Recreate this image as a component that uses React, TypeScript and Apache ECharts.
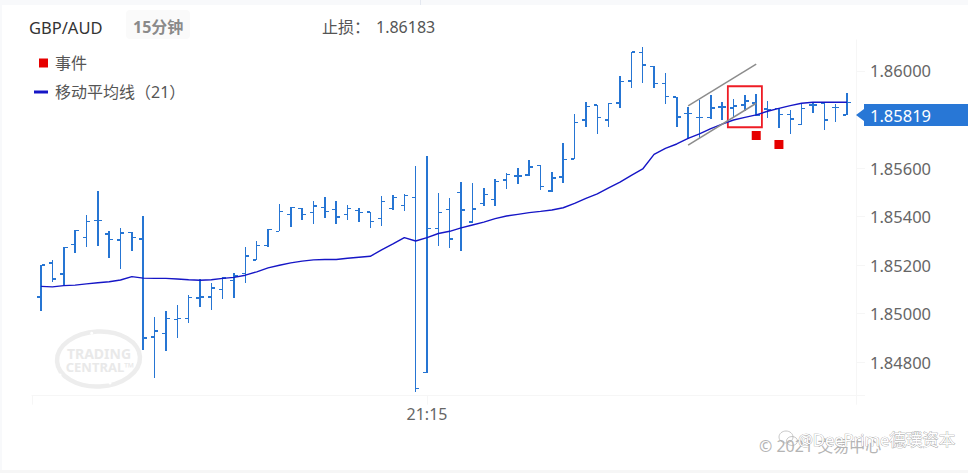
import React, { useEffect, useRef } from "react";
import * as echarts from "echarts";

const FONT = '"Noto Sans", "Noto Sans CJK SC", sans-serif';
const BAR_COLOR = "#2675d3";
const MA_COLOR = "#1616c6";
const AXIS_COLOR = "#f6f6f6";

const opens = [
  1.85069, 1.85209, 1.85162, 1.85285, 1.85314, 1.85384, 1.85327, 1.85304, 1.85335, 1.85308, 1.84904, 1.84918,
  1.84976, 1.8498, 1.85063, 1.85069, 1.851, 1.85137, 1.85164, 1.85221, 1.8528, 1.85339, 1.85409, 1.85432,
  1.85416, 1.85438, 1.85428, 1.85409, 1.85424, 1.85418, 1.85391, 1.85432, 1.85446, 1.85478, 1.84756, 1.85351,
  1.85428, 1.855, 1.85377, 1.85454, 1.85471, 1.8555, 1.85566, 1.85571, 1.85611, 1.85506, 1.85563, 1.85638,
  1.85798, 1.85859, 1.85797, 1.85869, 1.85959, 1.86077, 1.86018, 1.85949, 1.85892, 1.85824, 1.85809, 1.85809,
  1.85852, 1.85847, 1.85859, 1.85867, 1.85843, 1.85846, 1.85821, 1.8578, 1.85859, 1.85868, 1.8585, 1.85819,
];
const highs = [
  1.85201, 1.85221, 1.85273, 1.85343, 1.85406, 1.85505, 1.8534, 1.85353, 1.85336, 1.85402, 1.84986, 1.8501,
  1.85035, 1.85075, 1.85141, 1.85124, 1.85149, 1.85166, 1.85273, 1.85299, 1.85347, 1.85452, 1.85439, 1.85435,
  1.85464, 1.8548, 1.85464, 1.85447, 1.85435, 1.85419, 1.85485, 1.85489, 1.85493, 1.85608, 1.85649, 1.85497,
  1.85476, 1.85541, 1.85538, 1.85518, 1.85555, 1.85579, 1.856, 1.85633, 1.85611, 1.85583, 1.85703, 1.85823,
  1.85872, 1.8586, 1.85867, 1.85979, 1.86078, 1.86099, 1.86019, 1.85992, 1.85892, 1.85853, 1.85879, 1.85901,
  1.85872, 1.85885, 1.85901, 1.85905, 1.85876, 1.85847, 1.85839, 1.85864, 1.85872, 1.85868, 1.85864, 1.85909,
];
const lows = [
  1.8501, 1.85131, 1.85115, 1.85251, 1.85275, 1.85278, 1.8523, 1.85185, 1.85259, 1.84849, 1.84735, 1.84847,
  1.849, 1.84962, 1.85028, 1.85016, 1.85061, 1.85065, 1.85127, 1.85221, 1.85275, 1.85339, 1.85358, 1.85387,
  1.8537, 1.85395, 1.8537, 1.85387, 1.85379, 1.85354, 1.85362, 1.85428, 1.85424, 1.84675, 1.84753, 1.8528,
  1.85271, 1.85259, 1.85372, 1.85444, 1.85444, 1.85513, 1.85534, 1.85567, 1.85509, 1.85501, 1.85538, 1.85636,
  1.85769, 1.8574, 1.85769, 1.85847, 1.8593, 1.85951, 1.8593, 1.85864, 1.85768, 1.85718, 1.85722, 1.85801,
  1.85798, 1.85806, 1.85835, 1.85814, 1.85806, 1.85765, 1.8574, 1.85777, 1.85827, 1.85757, 1.8579, 1.85819,
];
const closes = [
  1.85201, 1.85143, 1.85273, 1.85343, 1.8538, 1.85384, 1.85306, 1.85333, 1.85313, 1.84898, 1.84927, 1.8498,
  1.8498, 1.85065, 1.85069, 1.85106, 1.85146, 1.85155, 1.85237, 1.85281, 1.85347, 1.8542, 1.85438, 1.85409,
  1.85444, 1.85421, 1.85398, 1.85432, 1.85416, 1.8538, 1.85461, 1.85478, 1.85486, 1.84691, 1.85351, 1.85417,
  1.85308, 1.85427, 1.8543, 1.8549, 1.85545, 1.85574, 1.85567, 1.85604, 1.85524, 1.85559, 1.85636, 1.85788,
  1.85854, 1.85809, 1.85865, 1.85956, 1.86078, 1.86024, 1.85949, 1.85894, 1.8581, 1.85824, 1.85809, 1.85847,
  1.85852, 1.85856, 1.85876, 1.85819, 1.85839, 1.85821, 1.85802, 1.85846, 1.85859, 1.85798, 1.8585, 1.85871,
];
const movingAverage = [
  1.85112, 1.8511, 1.85115, 1.85117, 1.85122, 1.85127, 1.85131, 1.85138, 1.85152, 1.85146, 1.85145, 1.85145,
  1.85142, 1.85139, 1.85137, 1.85139, 1.85145, 1.85149, 1.85158, 1.85172, 1.85188, 1.85199, 1.85209, 1.85216,
  1.85221, 1.85223, 1.85223, 1.85228, 1.85232, 1.85236, 1.85262, 1.85287, 1.85313, 1.85299, 1.85313, 1.8533,
  1.85339, 1.85353, 1.85365, 1.85377, 1.85391, 1.85402, 1.85409, 1.85416, 1.85421, 1.85427, 1.85436, 1.85454,
  1.85475, 1.85493, 1.85518, 1.85542, 1.8557, 1.85596, 1.85656, 1.85681, 1.85699, 1.85722, 1.85741, 1.85762,
  1.85781, 1.85798, 1.85809, 1.85819, 1.85834, 1.85846, 1.85857, 1.85867, 1.85871, 1.85871, 1.85871, 1.85871,
];

const priceTicks = [1.848, 1.85, 1.852, 1.854, 1.856, 1.86];
const timeTicks: Record<number, string> = { 34: "21:15" };
const lastPrice = 1.85819;

const eventPoints = [
  [63, 1.85734],
  [65, 1.85697],
];
const upperTrend = [
  [57, 1.85856],
  [63, 1.86028],
];
const lowerTrend = [
  [57, 1.85694],
  [63, 1.85867],
];
const highlightBox = [60.5, 1.85937, 63.5, 1.85768];

const X_MIN = -0.797;
const X_MAX = 71.789;
const Y_MIN = 1.846611;
const Y_MAX = 1.861278;

// same 1.5px stroke the original gets after pixel snapping, either 1 or 2 wide
const snap = (c: number) => {
  const a = Math.round(c - 0.75);
  const b = Math.round(c + 0.75);
  return [a, b - a];
};

const renderBar = (params: any, api: any) => {
  const i = api.value(0);
  const [x, openY] = api.coord([i, api.value(1)]);
  const highY = api.coord([i, api.value(2)])[1];
  const lowY = api.coord([i, api.value(3)])[1];
  const closeY = api.coord([i, api.value(4)])[1];
  const [left, width] = snap(x);
  const [oy, oh] = snap(openY);
  const [cy, ch] = snap(closeY);
  const top = Math.round(highY);
  const style = { fill: BAR_COLOR };
  return {
    type: "group",
    children: [
      { type: "rect", shape: { x: left, y: top, width, height: Math.max(1, Math.round(lowY) - top) }, style },
      { type: "rect", shape: { x: left - 3, y: oy, width: 3, height: oh }, style },
      { type: "rect", shape: { x: left + width, y: cy, width: 3, height: ch }, style },
    ],
  };
};

const renderBox = (params: any, api: any) => {
  const [x1, y1] = api.coord([api.value(0), api.value(1)]);
  const [x2, y2] = api.coord([api.value(2), api.value(3)]);
  return {
    type: "rect",
    shape: { x: x1, y: y1, width: x2 - x1, height: y2 - y1 },
    style: { fill: "none", stroke: "#ee1c25", lineWidth: 1.8 },
  };
};

const renderTag = (params: any, api: any) => {
  const y = Math.round(api.coord([0, api.value(1)])[1]);
  const axisX = params.coordSys.x + params.coordSys.width;
  return {
    type: "group",
    children: [
      {
        type: "polygon",
        shape: {
          points: [
            [axisX, y],
            [axisX + 8, y - 6],
            [axisX + 8, y - 11],
            [968, y - 11],
            [968, y + 11],
            [axisX + 8, y + 11],
            [axisX + 8, y + 6],
          ],
        },
        style: { fill: "#2877d6" },
      },
      {
        type: "text",
        style: {
          text: api.value(1).toFixed(5),
          x: axisX + 14,
          y,
          fill: "#fff",
          font: `16.5px ${FONT}`,
          verticalAlign: "middle",
        },
      },
    ],
  };
};

const App: React.FC = () => {
  const chartRef = useRef<HTMLDivElement>(null);

  useEffect(() => {
    if (!chartRef.current) return;
    document.body.style.margin = "0";

    const chart = echarts.init(chartRef.current, null, { renderer: "svg" });

    const option: any = {
      animation: false,
      backgroundColor: "#fff",
      grid: { left: 32, top: 40, width: 824, height: 355.7 },
      legend: [
        {
          left: 34,
          top: 50,
          orient: "vertical",
          selectedMode: false,
          itemWidth: 9,
          itemHeight: 9,
          data: [{ name: "事件", icon: "rect" }],
          textStyle: { fontFamily: FONT, fontSize: 16, color: "#555", padding: [0, 0, 0, 2] },
        },
        {
          left: 29,
          top: 79,
          orient: "vertical",
          selectedMode: false,
          itemWidth: 14,
          itemHeight: 3,
          data: [{ name: "移动平均线（21）", icon: "rect" }],
          textStyle: { fontFamily: FONT, fontSize: 16, color: "#555", padding: [0, 0, 0, 2] },
        },
      ],
      xAxis: {
        type: "value",
        min: X_MIN,
        max: X_MAX,
        splitLine: { show: false },
        axisLine: { onZero: false, lineStyle: { color: AXIS_COLOR } },
        axisTick: { customValues: [X_MIN, 34, X_MAX], length: 9, lineStyle: { color: AXIS_COLOR } },
        axisLabel: {
          customValues: [34],
          formatter: (v: number) => timeTicks[v] ?? "",
          fontFamily: FONT,
          fontSize: 16,
          color: "#666",
          margin: 10,
        },
      },
      yAxis: {
        type: "value",
        position: "right",
        min: Y_MIN,
        max: Y_MAX,
        splitLine: { show: false },
        axisLine: { show: true, onZero: false, lineStyle: { color: AXIS_COLOR } },
        axisTick: { customValues: [Y_MIN, ...priceTicks], length: 9, lineStyle: { color: AXIS_COLOR } },
        axisLabel: {
          customValues: priceTicks,
          formatter: (v: number) => v.toFixed(5),
          fontFamily: FONT,
          fontSize: 16.5,
          color: "#666",
          margin: 14,
        },
      },
      series: [
        {
          name: "GBP/AUD",
          type: "custom",
          renderItem: renderBar,
          encode: { x: 0, y: [1, 2, 3, 4] },
          data: opens.map((o, i) => [i, o, highs[i], lows[i], closes[i]]),
          silent: true,
        },
        {
          name: "移动平均线（21）",
          type: "line",
          data: movingAverage.map((v, i) => [i, v]),
          showSymbol: false,
          lineStyle: { color: MA_COLOR, width: 1.4 },
          itemStyle: { color: MA_COLOR },
          silent: true,
        },
        {
          name: "上轨",
          type: "line",
          data: upperTrend,
          showSymbol: false,
          lineStyle: { color: "#8c8c8c", width: 1.5 },
          silent: true,
        },
        {
          name: "下轨",
          type: "line",
          data: lowerTrend,
          showSymbol: false,
          lineStyle: { color: "#8c8c8c", width: 1.5 },
          silent: true,
        },
        {
          name: "事件",
          type: "scatter",
          data: eventPoints,
          symbol: "rect",
          symbolSize: 9,
          itemStyle: { color: "#e60000", opacity: 1 },
          silent: true,
        },
        {
          name: "止损框",
          type: "custom",
          renderItem: renderBox,
          data: [highlightBox],
          silent: true,
        },
        {
          name: "现价",
          type: "custom",
          renderItem: renderTag,
          data: [[71, lastPrice]],
          silent: true,
          z: 5,
        },
      ],
      graphic: [
        // page chrome around the card
        { type: "rect", shape: { x: 0, y: 0, width: 968, height: 5 }, style: { fill: "#f8f9fb" } },
        { type: "rect", shape: { x: 0, y: 0, width: 2, height: 473 }, style: { fill: "#f8f9fb" } },
        { type: "rect", shape: { x: 0, y: 470, width: 968, height: 3 }, style: { fill: "#f6f6f6" } },
        { type: "rect", shape: { x: 420, y: 0, width: 1, height: 5 }, style: { fill: "#e4e8f0" } },
        // header
        {
          type: "text",
          style: { text: "GBP/AUD", x: 29, y: 27, fill: "#333", font: `16.5px ${FONT}`, verticalAlign: "middle" },
        },
        { type: "rect", shape: { x: 126, y: 10, width: 64, height: 29, r: 4 }, style: { fill: "#fafafa" } },
        {
          type: "text",
          style: { text: "15分钟", x: 133, y: 27, fill: "#8a8a8a", font: `bold 16px ${FONT}`, verticalAlign: "middle" },
        },
        {
          type: "text",
          style: { text: "止损：", x: 322, y: 27, fill: "#555", font: `16px ${FONT}`, verticalAlign: "middle" },
        },
        {
          type: "text",
          style: { text: "1.86183", x: 376, y: 27, fill: "#555", font: `16px ${FONT}`, verticalAlign: "middle" },
        },
        // Trading Central mark
        {
          type: "ellipse",
          x: 98.5,
          y: 359,
          rotation: 0.05,
          shape: { cx: 0, cy: 0, rx: 41.5, ry: 27.5 },
          style: { fill: "none", stroke: "#ededed", lineWidth: 4.5 },
          z: -1,
        },
        { type: "circle", shape: { cx: 91.7, cy: 333.3, r: 1.5 }, style: { fill: "#fff" } },
        { type: "circle", shape: { cx: 139, cy: 344, r: 1.5 }, style: { fill: "#fff" } },
        { type: "circle", shape: { cx: 60, cy: 375, r: 1.5 }, style: { fill: "#fff" } },
        { type: "circle", shape: { cx: 110, cy: 383, r: 1.5 }, style: { fill: "#fff" } },
        {
          type: "text",
          style: { text: "TRADING", x: 99, y: 353, fill: "#e9e9e9", font: `bold 14px ${FONT}`, align: "center", verticalAlign: "middle" },
          z: -1,
        },
        {
          type: "text",
          style: { text: "CENTRAL™", x: 100, y: 367, fill: "#e9e9e9", font: `bold 13px ${FONT}`, align: "center", verticalAlign: "middle" },
          z: -1,
        },
        // overlaid copyright and repost watermark
        {
          type: "text",
          style: { text: "© 2021 交易中心", x: 759, y: 446, fill: "#b4b4b4", font: `16px ${FONT}`, verticalAlign: "middle" },
        },
        {
          type: "ellipse",
          shape: { cx: 786, cy: 437, rx: 7, ry: 6 },
          style: { fill: "none", stroke: "#b0b0b0", lineWidth: 0.7 },
        },
        {
          type: "ellipse",
          shape: { cx: 792, cy: 441, rx: 5.5, ry: 4.5 },
          style: { fill: "none", stroke: "#b0b0b0", lineWidth: 0.7 },
        },
        {
          type: "text",
          style: {
            text: "@DeePrime德璞资本",
            x: 798,
            y: 439,
            fill: "#ffffff",
            stroke: "#999",
            lineWidth: 0.7,
            font: `16.5px ${FONT}`,
            verticalAlign: "middle",
          },
        },
      ],
    };

    chart.setOption(option);

    return () => {
      chart.dispose();
    };
  }, []);

  return <div ref={chartRef} style={{ position: "fixed", left: 0, top: 0, width: 968, height: 473 }} />;
};

export default App;
